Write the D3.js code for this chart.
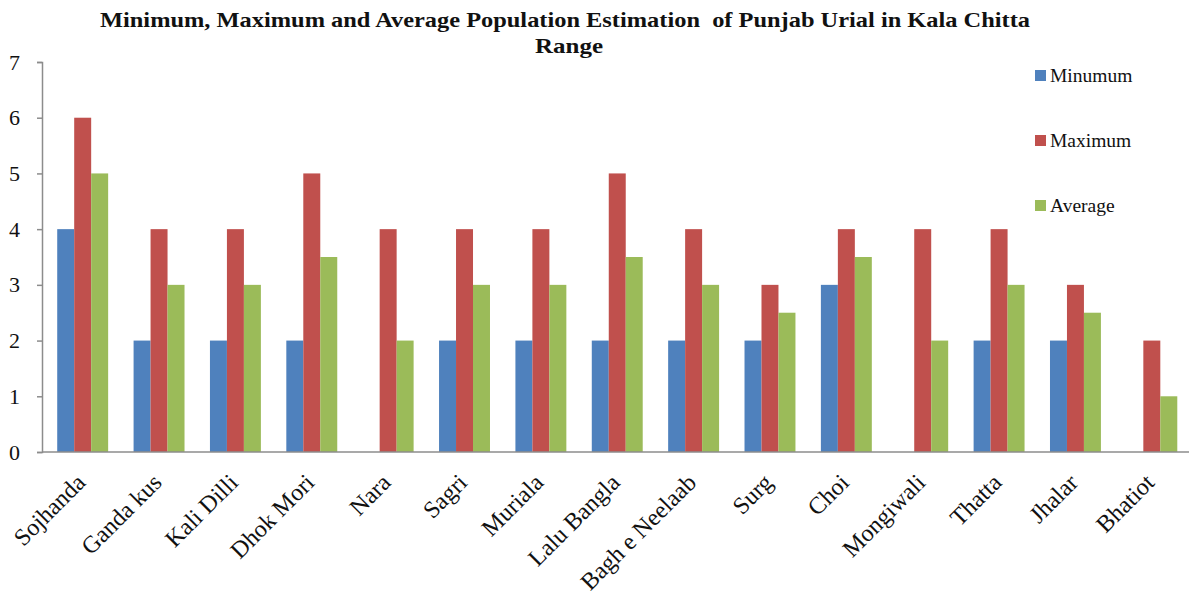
<!DOCTYPE html>
<html>
<head>
<meta charset="utf-8">
<script src="https://cdn.jsdelivr.net/npm/d3@7"></script>
<style>
  html, body { margin: 0; padding: 0; background: #fff; }
  svg { display: block; font-family: "Liberation Serif", "Times New Roman", serif; }
</style>
</head>
<body>
<svg id="chart" width="1189" height="594"></svg>
<script>
// Survey sites in the Kala Chitta Range
const sites = ["Sojhanda", "Ganda kus", "Kali Dilli", "Dhok Mori", "Nara", "Sagri", "Muriala",
  "Lalu Bangla", "Bagh e Neelaab", "Surg", "Choi", "Mongiwali", "Thatta", "Jhalar", "Bhatiot"];

// Population counts per site
const minimumValues = [4, 2, 2, 2, 0, 2, 2, 2, 2, 2, 3, 0, 2, 2, 0];
const maximumValues = [6, 4, 4, 5, 4, 4, 4, 5, 4, 3, 4, 4, 4, 3, 2];
const averageValues = [5, 3, 3, 3.5, 2, 3, 3, 3.5, 3, 2.5, 3.5, 2, 3, 2.5, 1];

const seriesNames = ["Minumum", "Maximum", "Average"];
const seriesColors = ["#4F81BD", "#C0504D", "#9BBB59"];
const yTicks = [0, 1, 2, 3, 4, 5, 6, 7];

const titleLines = ["Minimum, Maximum and Average Population Estimation  of Punjab Urial in Kala Chitta", "Range"];

const series = [minimumValues, maximumValues, averageValues];
const rows = sites.map((s, i) => ({ site: s, values: series.map(v => v[i]) }));

const svg = d3.select("#chart");
const axisLeft = 42, plotRight = 1189, plotTop = 62, plotBottom = 452;

const x = d3.scaleBand().domain(sites).range([44.5, 1190]).paddingInner(0.333).paddingOuter(0.1665);
const xInner = d3.scaleBand().domain(seriesNames).range([0, x.bandwidth()]);
const y = d3.scaleLinear().domain([0, 7]).range([plotBottom, plotTop]);

// Title (wide bold face, stretched to its set width)
const titleSpecs = [{ cx: 565, y: 27, w: 930 }, { cx: 569, y: 53, w: 68 }];
svg.append("g").selectAll("text").data(titleLines).join("text")
  .attr("x", (d, i) => titleSpecs[i].cx - titleSpecs[i].w / 2)
  .attr("y", (d, i) => titleSpecs[i].y)
  .attr("textLength", (d, i) => titleSpecs[i].w)
  .attr("lengthAdjust", "spacingAndGlyphs")
  .attr("font-weight", "bold")
  .attr("font-size", 21)
  .attr("fill", "#111")
  .style("white-space", "pre")
  .text(d => d);

// Bars
const groups = svg.append("g").selectAll("g").data(rows).join("g")
  .attr("transform", d => `translate(${x(d.site)},0)`);
groups.selectAll("rect")
  .data(d => d.values.map((v, k) => ({ key: seriesNames[k], value: v, k })))
  .join("rect")
  .attr("x", d => xInner(d.key))
  .attr("width", xInner.bandwidth())
  .attr("y", d => y(d.value))
  .attr("height", d => y(0) - y(d.value))
  .attr("fill", d => seriesColors[d.k]);

// Y axis
const yAxis = svg.append("g")
  .attr("transform", `translate(${axisLeft},0)`)
  .call(d3.axisLeft(y).tickValues(yTicks).tickSize(5).tickPadding(17).tickFormat(d3.format("d")));
yAxis.select(".domain").attr("stroke", "#8c8c8c").attr("stroke-width", 1.5);
yAxis.selectAll(".tick line").attr("stroke", "#8c8c8c").attr("stroke-width", 1.5);
yAxis.selectAll(".tick text").attr("font-size", 22).attr("fill", "#111")
  .attr("font-family", "Liberation Serif, Times New Roman, serif");

// X axis line
svg.append("line")
  .attr("x1", axisLeft).attr("x2", plotRight)
  .attr("y1", y(0)).attr("y2", y(0))
  .attr("stroke", "#8c8c8c").attr("stroke-width", 1.5);

// Category labels
svg.append("g").selectAll("text").data(sites).join("text")
  .attr("transform", d => `translate(${x(d) + x.bandwidth() / 2 + 4},${plotBottom + 32}) rotate(-45)`)
  .attr("text-anchor", "end")
  .attr("font-size", 24)
  .attr("fill", "#111")
  .text(d => d);

// Legend
const legend = svg.append("g").selectAll("g").data(seriesNames).join("g")
  .attr("transform", (d, i) => `translate(1035,${76 + i * 65})`);
legend.append("rect")
  .attr("x", 0).attr("y", -6).attr("width", 11).attr("height", 11)
  .attr("fill", (d, i) => seriesColors[i]);
legend.append("text")
  .attr("x", 15).attr("y", 6)
  .attr("font-size", 19.5)
  .attr("fill", "#111")
  .text(d => d);
</script>
</body>
</html>
